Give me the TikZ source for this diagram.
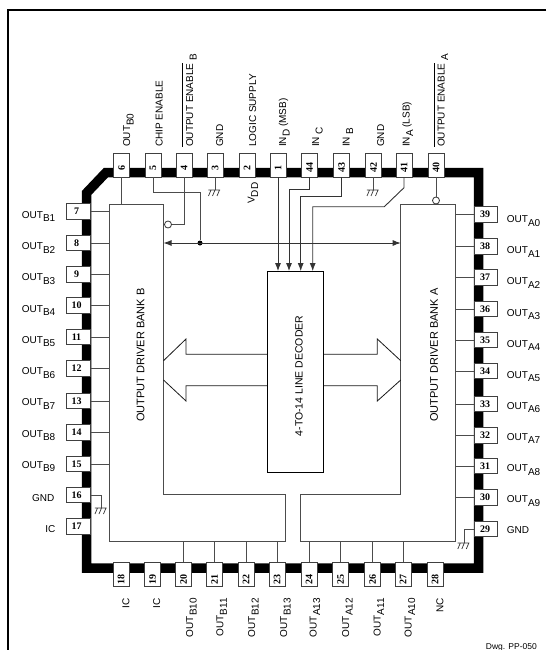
\documentclass[tikz,border=0pt]{standalone}
\usepackage{fontspec}
\setmainfont{Liberation Sans}
\newfontfamily\pinfont{Liberation Serif}
\usepackage{tikz}
\usetikzlibrary{positioning,calc,arrows.meta}
\newcommand{\subs}[1]{\raisebox{-3.5pt}{#1}}
\newcommand{\ovl}[1]{$\overline{\mbox{\rule{0pt}{9.3pt}#1}}$}

\begin{document}
\begin{tikzpicture}[x=1pt,y=-1pt]
        \tikzset{
            pin/.style={draw=black!75, fill=white, line width=0.9pt, inner sep=0pt, font=\pinfont\bfseries},
            pinv/.style={pin, minimum width=16pt, minimum height=24pt},
            pinh/.style={pin, minimum width=23.5pt, minimum height=15.5pt},
            wire/.style={black!70, line width=0.9pt},
            sig/.style={black!80, line width=0.9pt, -{Latex[length=8pt,width=6pt]}},
            block/.style={black!90, line width=0.8pt},
            upper/.style={rotate=90, anchor=base west, inner sep=0pt},
            lower/.style={rotate=90, anchor=base east, inner sep=0pt},
            lefttext/.style={anchor=base east, inner sep=0pt},
            righttext/.style={anchor=base west, inner sep=0pt},
            inv/.style={circle, draw=black!80, fill=white, line width=0.8pt, inner sep=0pt, minimum size=7pt},
            gndsym/.pic={
                \draw[black!80, line width=0.7pt] (-6.7,0) -- (5,0) (-4,0) -- (-6.5,6) (0,0) -- (-2.5,6) (4.5,0) -- (2,6);
            }
        }
        \useasboundingbox (0,0) rectangle (546,650);
        \draw[line width=1.7pt] (546,10) -- (8,10) -- (8,650);

        \draw[line width=9.5pt] (106,172.5) -- (478.5,172.5) -- (478.5,568) -- (86.5,568) -- (86.5,193) -- cycle;

        \foreach \pinno/\xx in {6/121.5,5/153,4/184,3/215,2/247,1/278,44/309.5,43/341.5,42/373.5,41/404,40/436}
            \node[pinv] (p\pinno) at (\xx,165) {\rotatebox{90}{\pinno\kern5pt}};
        \foreach \pinno/\xx in {18/121,19/152.5,20/183.5,21/214.5,22/246,23/277,24/309,25/340.5,26/372.5,27/403,28/435}
            \node[pinv] (p\pinno) at (\xx,574.5) {\rotatebox{90}{\pinno\kern9pt}};
        \foreach \pinno/\yy in {7/211.5,8/243,9/274.5,10/305.5,11/337,12/368.5,13/401,14/432.5,15/464,16/495,17/526.5}
            \node[pinh] (p\pinno) at (78.5,\yy) {\pinno\kern4pt};
        \foreach \pinno/\yy in {39/214.5,38/246.5,37/277.5,36/309,35/340,34/371,33/404,32/435.5,31/466,30/497.5,29/529}
            \node[pinh] (p\pinno) at (486,\yy) {\pinno\kern2pt};

        \coordinate (bkBtl) at (109,204.5);
        \coordinate (bkBtr) at (163.5,204.5);
        \coordinate (bkBin) at (163.5,494.7);
        \coordinate (bkBnt) at (285.5,494.7);
        \coordinate (bkBnb) at (285.5,541.7);
        \coordinate (bkBbl) at (109,541.7);
        \coordinate (bkAtl) at (400.7,204.5);
        \coordinate (bkAtr) at (455.3,204.5);
        \coordinate (bkAin) at (400.7,494.7);
        \coordinate (bkAnt) at (300.7,494.7);
        \coordinate (bkAnb) at (300.7,541.7);
        \coordinate (bkAbr) at (455.3,541.7);
        \draw[wire] (bkBtl) -- (bkBtr) -- (bkBin) -- (bkBnt) -- (bkBnb) -- (bkBbl) -- cycle;
        \draw[wire] (bkAtl) -- (bkAtr) -- (bkAbr) -- (bkAnb) -- (bkAnt) -- (bkAin) -- cycle;
        \node[rotate=90, inner sep=0pt, font=\fontsize{11}{12}\selectfont] (bankBlbl) at (140.5,355) {OUTPUT DRIVER BANK B};
        \node[rotate=90, inner sep=0pt, font=\fontsize{11}{12}\selectfont] (bankAlbl) at (434,355) {OUTPUT DRIVER BANK A};

        \node[draw, line width=1.2pt, minimum width=55.6pt, minimum height=201pt, inner sep=0pt] (decoder) at (295.5,372.2) {};
        \node[rotate=90, inner sep=0pt, font=\fontsize{10.5}{12}\selectfont] (decoderlbl) at (299,376) {4-TO-14 LINE DECODER};

        \draw[block] (decoder.west |- 0,354.3) -- (186,354.3) -- (186,339) -- (163.5,360.7);
        \draw[block] (decoder.west |- 0,385.7) -- (186,385.7) -- (186,401) -- (163.5,380);
        \draw[block] (decoder.east |- 0,354.3) -- (377.3,354.3) -- (377.3,339) -- (400.7,360.7);
        \draw[block] (decoder.east |- 0,385.7) -- (377.3,385.7) -- (377.3,401) -- (400.7,380);

        \foreach \pinno in {7,8,9,10,11,12,13,14,15}
            \draw[wire] (p\pinno.east) -- (p\pinno.east -| bkBtl);
        \foreach \pinno in {39,38,37,36,35,34,33,32,31,30}
            \draw[wire] (p\pinno.west) -- (p\pinno.west -| bkAtr);
        \foreach \pinno in {20,21,22,23}
            \draw[wire] (p\pinno.north) -- (p\pinno.north |- bkBbl);
        \foreach \pinno in {24,25,26,27}
            \draw[wire] (p\pinno.north) -- (p\pinno.north |- bkAbr);
        \draw[wire] (p6.south) -- (p6.south |- bkBtl);

        \node[inv] (invB) at (168,224.5) {};
        \node[inv] (invA) at (436,200.5) {};
        \draw[wire] (p4.south) |- (invB.east);
        \draw[wire] (p40.south) -- (invA.north);

        \coordinate (busB) at (163.5,243);
        \coordinate (busA) at (400.7,243);
        \node[circle, fill=black, inner sep=0pt, minimum size=5pt] (busdot) at (200,243) {};
        \draw[black!80, line width=0.9pt, {Latex[length=8pt,width=6pt]}-{Latex[length=8pt,width=6pt]}] (busB) -- (busA);
        \coordinate (enjog) at (153,192.7);
        \draw[wire] (p5.south) |- (busdot |- enjog) -- (busdot);

        \coordinate (jogC) at (289,189);
        \coordinate (jogB) at (300.7,196.7);
        \coordinate (jogAa) at (404,187.7);
        \coordinate (jogAb) at (384.3,206.7);
        \coordinate (jogAc) at (312.7,206.7);
        \draw[sig] (p1.south) -- (p1.south |- decoder.north);
        \draw[sig] (p44.south) |- (jogC) -- (jogC |- decoder.north);
        \draw[sig] (p43.south) |- (jogB) -- (jogB |- decoder.north);
        \draw[sig] (p41.south) -- (jogAa) -- (jogAb) -- (jogAc) -- (jogAc |- decoder.north);

        \coordinate (gnd3) at (215,190);
        \coordinate (gnd42) at (373.5,190);
        \coordinate (gnd16) at (101.5,508);
        \coordinate (gnd29) at (464.3,543);
        \draw[wire] (p3.south) -- (gnd3);
        \draw[wire] (p42.south) -- (gnd42);
        \draw[wire] (p16.east) -| (gnd16);
        \draw[wire] (p29.west) -| (gnd29);
        \pic at (gnd3) {gndsym};
        \pic at (gnd42) {gndsym};
        \pic at (gnd16) {gndsym};
        \pic at (gnd29) {gndsym};

        \node[upper] (lblB0) at (130,147) {OUT\subs{B0}};
        \node[upper] (lblCE) at (162.7,147) {CHIP ENABLE};
        \node[upper] (lblOEB) at (193,147) {\ovl{OUTPUT ENABLE}\kern3pt\subs{B}};
        \node[upper] (lblG3) at (223,147) {GND};
        \node[upper] (lblLS) at (256,147) {LOGIC SUPPLY};
        \node[upper] (lblVDD) at (254.5,204) {V\subs{DD}};
        \node[upper] (lblIND) at (286,147) {IN\subs{D} (MSB)};
        \node[upper] (lblINC) at (319,147) {IN\subs{ C}};
        \node[upper] (lblINB) at (349.5,147) {IN\subs{ B}};
        \node[upper] (lblG42) at (384,147) {GND};
        \node[upper] (lblINA) at (409.5,147) {IN\subs{A} (LSB)};
        \node[upper] (lblOEA) at (444.5,147) {\ovl{OUTPUT ENABLE}\kern3pt\subs{A}};

        \foreach \xx/\txt in {129.3/IC,160/IC,193/OUT\subs{B10},223.3/OUT\subs{B11},255/OUT\subs{B12},287/OUT\subs{B13},316.7/OUT\subs{A13},349/OUT\subs{A12},380.7/OUT\subs{A11},411.7/OUT\subs{A10},443.3/NC}
            \node[lower] at (\xx,598) {\txt};
        \foreach \yy/\txt in {218.3/B1,249.5/B2,280.8/B3,312/B4,343.3/B5,374.5/B6,405.8/B7,437/B8,468.3/B9}
            \node[lefttext] at (55.5,\yy) {OUT\subs{\txt}};
        \node[lefttext] (lblG16) at (54.5,501.7) {GND};
        \node[lefttext] (lblIC17) at (55.5,532.3) {IC};
        \foreach \yy/\txt in {222.7/A0,253.8/A1,284.9/A2,316/A3,347.1/A4,378.2/A5,409.3/A6,440.4/A7,471.5/A8,502.7/A9}
            \node[righttext] at (506.7,\yy) {OUT\subs{\txt}};
        \node[righttext] (lblG29) at (506.7,533) {GND};

        \node[anchor=base east, inner sep=0pt, font=\fontsize{8.5}{10}\selectfont] (dwg) at (537,649) {Dwg. PP-050};
    \end{tikzpicture}
\end{document}
